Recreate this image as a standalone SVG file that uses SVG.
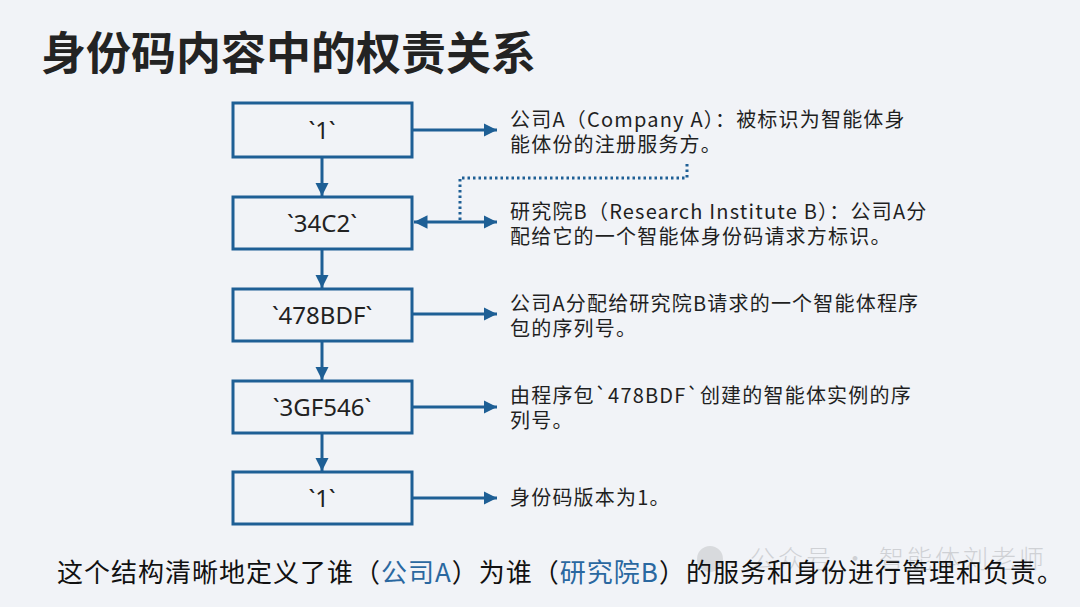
<svg xmlns="http://www.w3.org/2000/svg" width="1080" height="607" viewBox="0 0 1080 607">
<defs>
<style>
.bg{fill:#f1f3f7}
.box{fill:none;stroke:#1e5f95;stroke-width:3}
.lbl{font-family:"Noto Sans","Noto Sans CJK SC",sans-serif;font-size:24px;fill:#222;text-anchor:middle}
.desc{font-family:"Noto Sans CJK SC","Noto Sans",sans-serif;font-size:20px;letter-spacing:1.2px;fill:#1f1f1f}
.conn{stroke:#1e5f95;stroke-width:3;fill:none}
.dot{stroke:#1e5f95;stroke-width:3;fill:none;stroke-dasharray:2.5 3}
.title{font-family:"Noto Sans CJK SC",sans-serif;font-size:45px;font-weight:bold;fill:#232323}
.foot{font-family:"Noto Sans CJK SC","Noto Sans",sans-serif;font-size:26px;letter-spacing:1px;fill:#111}
.hl{fill:#2a68a0}
.wm{font-family:"Noto Sans CJK SC",sans-serif;font-size:25px;font-weight:300;letter-spacing:3px;fill:#cfd1d5}
</style>
<marker id="ah" viewBox="0 0 10 10" refX="10" refY="5" markerWidth="4.5" markerHeight="4.5" orient="auto-start-reverse" markerUnits="strokeWidth">
<path d="M0,0 L10,5 L0,10 z" fill="#1e5f95"/>
</marker>
</defs>
<rect class="bg" x="0" y="0" width="1080" height="607"/>
<text class="title" x="41" y="70">身份码内容中的权责关系</text>

<g id="connectors">
<line class="conn" x1="322" y1="157" x2="322" y2="196" marker-end="url(#ah)"/>
<line class="conn" x1="322" y1="249" x2="322" y2="288" marker-end="url(#ah)"/>
<line class="conn" x1="322" y1="341" x2="322" y2="380" marker-end="url(#ah)"/>
<line class="conn" x1="322" y1="433" x2="322" y2="471" marker-end="url(#ah)"/>
<line class="conn" x1="413" y1="130" x2="497" y2="130" marker-end="url(#ah)"/>
<line class="conn" x1="414" y1="222" x2="497" y2="222" marker-start="url(#ah)" marker-end="url(#ah)"/>
<line class="conn" x1="413" y1="314" x2="497" y2="314" marker-end="url(#ah)"/>
<line class="conn" x1="413" y1="407" x2="497" y2="407" marker-end="url(#ah)"/>
<line class="conn" x1="413" y1="498" x2="497" y2="498" marker-end="url(#ah)"/>
<polyline class="dot" points="460,220 460,178 687,178 687,163"/>
</g>

<g id="node1"><rect class="box" x="233" y="103" width="179" height="54"/><text class="lbl" x="322" y="139">`1`</text></g>
<g id="node2"><rect class="box" x="233" y="197" width="179" height="52"/><text class="lbl" x="322" y="232">`34C2`</text></g>
<g id="node3"><rect class="box" x="233" y="289" width="179" height="52"/><text class="lbl" x="322" y="324">`478BDF`</text></g>
<g id="node4"><rect class="box" x="233" y="381" width="179" height="52"/><text class="lbl" x="322" y="416">`3GF546`</text></g>
<g id="node5"><rect class="box" x="233" y="472" width="179" height="52"/><text class="lbl" x="322" y="507">`1`</text></g>

<g id="desc1"><text class="desc" x="510" y="127">公司A（Company A）：被标识为智能体身<tspan x="510" dy="25">能体份的注册服务方。</tspan></text></g>
<g id="desc2"><text class="desc" x="510" y="219">研究院B（Research Institute B）：公司A分<tspan x="510" dy="25">配给它的一个智能体身份码请求方标识。</tspan></text></g>
<g id="desc3"><text class="desc" x="510" y="311">公司A分配给研究院B请求的一个智能体程序<tspan x="510" dy="25">包的序列号。</tspan></text></g>
<g id="desc4"><text class="desc" x="510" y="403">由程序包`478BDF`创建的智能体实例的序<tspan x="510" dy="25">列号。</tspan></text></g>
<g id="desc5"><text class="desc" x="510" y="505">身份码版本为1。</text></g>

<g id="watermark">
<circle cx="710" cy="559" r="13" fill="#d8dadd"/>
<text class="wm" x="750" y="568">公众号 · 智能体刘老师</text>
</g>
<text class="foot" x="57" y="582">这个结构清晰地定义了谁（<tspan class="hl">公司A</tspan>）为谁（<tspan class="hl">研究院B</tspan>）的服务和身份进行管理和负责。</text>
</svg>
